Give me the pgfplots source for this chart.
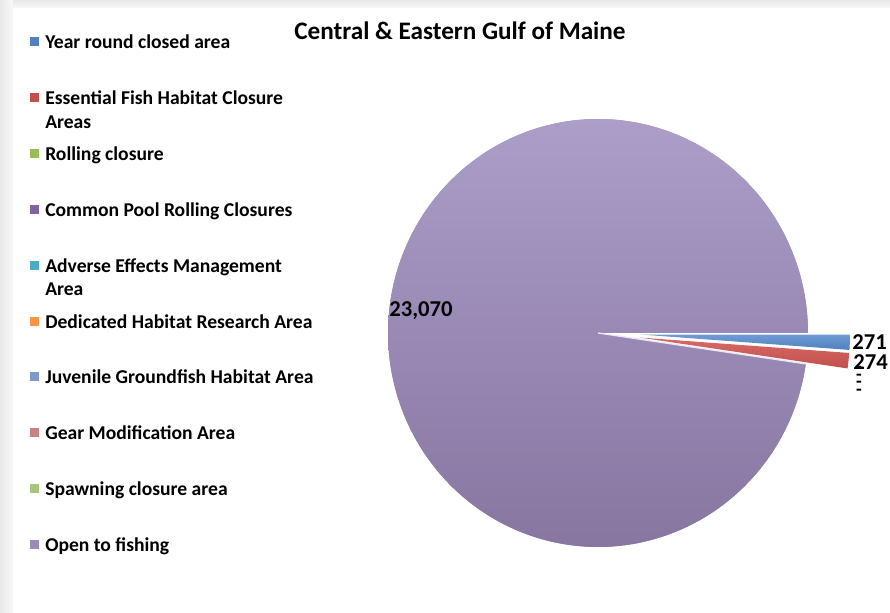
\documentclass[border=0pt]{standalone}
\usepackage{fontspec}
\setmainfont{Carlito}
\usepackage{pgfplots}
\usepackage{pgfplotstable}
\pgfplotsset{compat=1.18}

\definecolor{cBlue}{HTML}{4F81BD}
\definecolor{cBlueTop}{HTML}{6F9BD6}
\definecolor{cRed}{HTML}{C0504D}
\definecolor{cRedTop}{HTML}{D86A66}
\definecolor{cGreen}{HTML}{9BBB59}
\definecolor{cPurple}{HTML}{8064A2}
\definecolor{cAqua}{HTML}{4BACC6}
\definecolor{cOrange}{HTML}{F79646}
\definecolor{cLBlue}{HTML}{7E98C7}
\definecolor{cLRed}{HTML}{C98281}
\definecolor{cLGreen}{HTML}{A8C47D}
\definecolor{cLPurple}{HTML}{9C8BB9}
\definecolor{pieTop}{HTML}{AC9DC9}
\definecolor{pieMid}{HTML}{9988B4}
\definecolor{pieBot}{HTML}{8676A0}
\definecolor{frameGray}{HTML}{EEEEEE}

% values of the pie (Central & Eastern Gulf of Maine)
\pgfplotstableread{
id value
1 271
2 274
3 0
4 0
5 0
6 0
7 0
8 0
9 0
10 23070
}\pietable

\pgfplotstablegetelem{0}{value}\of\pietable \edef\vA{\pgfplotsretval}
\pgfplotstablegetelem{1}{value}\of\pietable \edef\vB{\pgfplotsretval}
\pgfplotstablegetelem{9}{value}\of\pietable \edef\vJ{\pgfplotsretval}
\edef\tot{\fpeval{\vA+\vB+\vJ}}
\edef\aA{\fpeval{round(360*\vA/\tot,4)}}
\edef\aB{\fpeval{round(360*(\vA+\vB)/\tot,4)}}
\pgfmathsetmacro\aAh{\aA/2}
\pgfmathsetmacro\aBh{(\aA+\aB)/2}
% pie geometry in pixel units
\def\cx{598}\def\cy{280}\def\rx{210}\def\ry{214}\def\ex{42}
\pgfmathsetmacro\bxA{\cx+\ex*cos(-\aAh)}
\pgfmathsetmacro\byA{\cy+\ex*sin(-\aAh)}
\pgfmathsetmacro\bxB{\cx+\ex*cos(-\aBh)}
\pgfmathsetmacro\byB{\cy+\ex*sin(-\aBh)}

\newcommand{\legfont}{\bfseries\fontsize{14.7}{17}\selectfont}
\newcommand{\valfont}{\bfseries\fontsize{17}{20}\selectfont}
\newcommand{\dashfont}{\bfseries\fontsize{14}{3.8}\selectfont}

\begin{document}
\begin{tikzpicture}
\begin{axis}[
  x=0.75pt, y=0.75pt,
  xmin=0, xmax=890, ymin=0, ymax=613,
  hide axis, clip=false,
]
\coordinate (LL) at (0,0);
\coordinate (UR) at (890,613);
% background frame
\fill[white] (0,0) rectangle (890,613);
\fill[left color=frameGray!80!gray!60, right color=frameGray!40] (0,0) rectangle (13,613);
\fill[top color=frameGray!80!gray!60, bottom color=frameGray!40] (13,605) rectangle (890,613);

% open to fishing (large slice): solid underlay, then shading
\addplot[draw=none, fill=pieMid, domain=-360:-\aB, samples=200]
  ({\cx+\rx*cos(x)}, {\cy+\ry*sin(x)}) -- (\cx,\cy) -- cycle;
\addplot[draw=none, top color=pieTop, bottom color=pieBot, domain=-360:-\aB, samples=200]
  ({\cx+\rx*cos(x)}, {\cy+\ry*sin(x)}) -- (\cx,\cy) -- cycle;
\addplot[draw=white!75!pieTop, line width=1pt, domain=0:1, samples=2]
  ({\cx+x*\rx*cos(-\aB)}, {\cy+x*\ry*sin(-\aB)});
% exploded slices
\addplot[draw=none, top color=cBlueTop, bottom color=cBlue, domain=-\aA:0, samples=20]
  ({\bxA+\rx*cos(x)}, {\byA+\ry*sin(x)}) -- (\bxA,\byA) -- cycle;
\addplot[draw=none, top color=cRedTop, bottom color=cRed, domain=-\aB:-\aA, samples=20]
  ({\bxB+\rx*cos(x)}, {\byB+\ry*sin(x)}) -- (\bxB,\byB) -- cycle;

% data labels
\node[font=\valfont, inner sep=0pt] at (421,302) {23,070};
\node[anchor=base west, font=\valfont, inner sep=0pt] at (852,263) {271};
\node[anchor=base west, font=\valfont, inner sep=0pt] at (853,243) {274};
\node[font=\dashfont, inner sep=0pt, align=center] at (859,232) {-\\-\\-\\-};

% title
\node[font=\bfseries\fontsize{18.9}{22}\selectfont, inner sep=0pt] at (460,582) {Central \& Eastern Gulf of Maine};

% legend
\def\sq#1#2{\fill[#1] (29.5,{613-#2-4.5}) rectangle (38.5,{613-#2+4.5});}
\sq{cBlue}{42}
\node[anchor=base west, font=\legfont, inner sep=0pt] at (45,{613-49}) {Year round closed area};
\sq{cRed}{98}
\node[anchor=base west, font=\legfont, inner sep=0pt] at (45,{613-105}) {Essential Fish Habitat Closure};
\node[anchor=base west, font=\legfont, inner sep=0pt] at (45,{613-129}) {Areas};
\sq{cGreen}{154}
\node[anchor=base west, font=\legfont, inner sep=0pt] at (45,{613-161}) {Rolling closure};
\sq{cPurple}{210}
\node[anchor=base west, font=\legfont, inner sep=0pt] at (45,{613-217}) {Common Pool Rolling Closures};
\sq{cAqua}{266}
\node[anchor=base west, font=\legfont, inner sep=0pt] at (45,{613-273}) {Adverse Effects Management};
\node[anchor=base west, font=\legfont, inner sep=0pt] at (45,{613-296}) {Area};
\sq{cOrange}{322}
\node[anchor=base west, font=\legfont, inner sep=0pt] at (45,{613-329}) {Dedicated Habitat Research Area};
\sq{cLBlue}{377}
\node[anchor=base west, font=\legfont, inner sep=0pt] at (45,{613-384}) {Juvenile Groundfish Habitat Area};
\sq{cLRed}{433}
\node[anchor=base west, font=\legfont, inner sep=0pt] at (45,{613-440}) {Gear Modification Area};
\sq{cLGreen}{489}
\node[anchor=base west, font=\legfont, inner sep=0pt] at (45,{613-496}) {Spawning closure area};
\sq{cLPurple}{545}
\node[anchor=base west, font=\legfont, inner sep=0pt] at (45,{613-552}) {Open to fishing};
\end{axis}
\pgfresetboundingbox
\path[use as bounding box] (LL) rectangle (UR);
\end{tikzpicture}
\end{document}
